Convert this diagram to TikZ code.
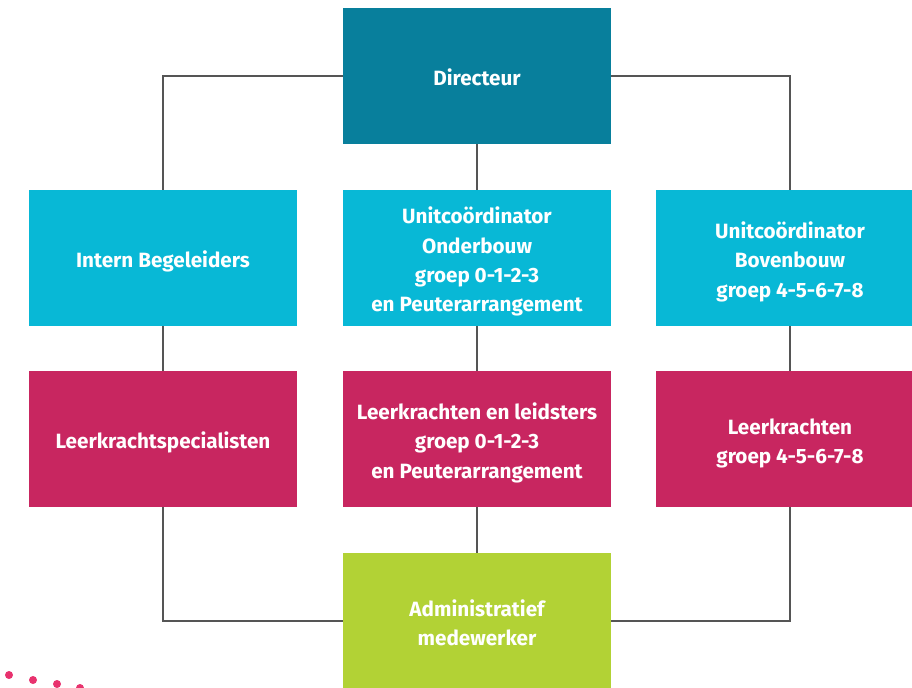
\documentclass[tikz,border=0pt]{standalone}
\usepackage{fontspec}
\setmainfont{Fira Sans}
\usepackage{tikz}

\definecolor{dirteal}{RGB}{8,127,156}
\definecolor{unitcyan}{RGB}{8,184,214}
\definecolor{teachmag}{RGB}{200,38,96}
\definecolor{admgreen}{RGB}{178,210,53}
\definecolor{dotpink}{RGB}{232,50,110}
\definecolor{linegray}{RGB}{85,85,85}

% tekst iets lager in het vak
\newcommand{\orgtext}[1]{\raisebox{-3pt}[\height][\depth]{\begin{tabular}{@{}c@{}}#1\end{tabular}}}

\tikzset{
  orgbox/.style={rectangle, minimum width=201pt, minimum height=102pt, inner sep=0pt,
    text=white, font=\bfseries\fontsize{15.5}{22}\selectfont},
  orgline/.style={draw=linegray, line width=1.1pt}
}

\begin{document}
\begin{tikzpicture}[x=0.75pt,y=0.75pt,yscale=-1,xscale=1]
\useasboundingbox (0,0) rectangle (912,687);

% Directeur
\node [orgbox, fill=dirteal] (dir) at (477,76) {\orgtext{Directeur}};

% Unitcoordinatoren en IB
\node [orgbox, fill=unitcyan] (ib) at (163,258) {\orgtext{Intern Begeleiders}};
\node [orgbox, fill=unitcyan] (ucob) at (477,258) {\orgtext{Unitcoördinator\\Onderbouw\\groep 0-1-2-3\\en Peuterarrangement}};
\node [orgbox, fill=unitcyan] (ucbb) at (790,258) {\orgtext{Unitcoördinator\\Bovenbouw\\groep 4-5-6-7-8}};

% Leerkrachten
\node [orgbox, fill=teachmag] (lks) at (163,439) {\orgtext{Leerkrachtspecialisten}};
\node [orgbox, fill=teachmag] (lkob) at (477,439) {\orgtext{Leerkrachten en leidsters\\groep 0-1-2-3\\en Peuterarrangement}};
\node [orgbox, fill=teachmag] (lkbb) at (790,439) {\orgtext{Leerkrachten\\groep 4-5-6-7-8}};

% Administratie
\node [orgbox, fill=admgreen] (adm) at (477,621) {\orgtext{Administratief\\medewerker}};

% Lijnen
\draw [orgline] (dir.west) -| (ib.north);
\draw [orgline] (dir.east) -| (ucbb.north);
\draw [orgline] (dir.south) -- (ucob.north);
\draw [orgline] (ib.south) -- (lks.north);
\draw [orgline] (ucob.south) -- (lkob.north);
\draw [orgline] (ucbb.south) -- (lkbb.north);
\draw [orgline] (lks.south) |- (adm.west);
\draw [orgline] (lkbb.south) |- (adm.east);
\draw [orgline] (lkob.south) -- (adm.north);

% Stippen
\foreach \px/\py in {9/675, 33/680, 57/684, 80/688}
  \fill [dotpink] (\px,\py) circle (4);

\end{tikzpicture}
\end{document}
